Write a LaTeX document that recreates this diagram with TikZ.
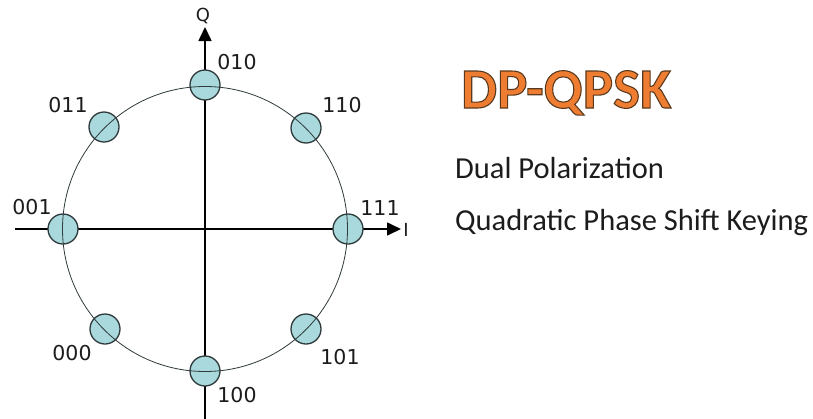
\documentclass[tikz,border=0pt]{standalone}
\usepackage{fontspec}
\setmainfont{Carlito}
\newfontfamily\lblfont{DejaVu Sans}
\usetikzlibrary{arrows.meta}
\definecolor{ptfill}{HTML}{A9D9DC}
\definecolor{ptline}{HTML}{2F3A3C}
\definecolor{orng}{HTML}{EE7D31}
\definecolor{brwn}{HTML}{5A3A1E}
\definecolor{txt}{HTML}{1C1C1C}
\tikzset{
  pt/.style={circle, draw=ptline, line width=1.3pt, fill=ptfill, minimum size=30pt, inner sep=0pt},
  bits/.style={font=\lblfont\fontsize{20.5}{22}\selectfont, text=txt, inner sep=0pt},
  axlab/.style={font=\lblfont\fontsize{18}{20}\selectfont, text=txt, inner sep=0pt},
  axis/.style={line width=1.6pt, -{Triangle[length=14pt,width=13pt]}},
  body/.style={font=\fontsize{30.5}{34}\selectfont, text=txt, inner sep=0pt, anchor=base west}
}
\newcommand{\outlinedtitle}[1]{\textcolor{orng}{\special{pdf:code q 2 Tr 1.1 w 0.353 0.227 0.118 RG}#1\special{pdf:code 0 Tr Q}}}
\begin{document}
\begin{tikzpicture}[x=1pt,y=-1pt]
\useasboundingbox (0,0) rectangle (813,418);
\coordinate (c) at (205,229);
\coordinate (xl) at (15,229);
\coordinate (xr) at (401,229);
\coordinate (yb) at (205,420);
\coordinate (yt) at (205,27);
\draw[axis] (xl) -- (xr);
\draw[axis] (yb) -- (yt);
\node[axlab] (qlab) at (203,16) {Q};
\node[axlab] (ilab) at (406,230) {I};
\node[pt] (p010) at (205,85) {};
\node[pt] (p110) at (306,128) {};
\node[pt] (p111) at (348,229) {};
\node[pt] (p101) at (306,329) {};
\node[pt] (p100) at (205,371) {};
\node[pt] (p000) at (105,329) {};
\node[pt] (p001) at (63,229) {};
\node[pt] (p011) at (104,127) {};
\draw[line width=0.8pt, draw=ptline] (c) circle (142.5);
\node[bits] (l010) at (237,62) {010};
\node[bits] (l011) at (68,105) {011};
\node[bits] (l110) at (342,105) {110};
\node[bits] (l001) at (32,207) {001};
\node[bits] (l111) at (380,208) {111};
\node[bits] (l000) at (72,353) {000};
\node[bits] (l101) at (340,357) {101};
\node[bits] (l100) at (237,395) {100};
\node[inner sep=0pt, anchor=base west, font=\bfseries\fontsize{57}{62}\selectfont] (title) at (461,108) {\outlinedtitle{DP-QPSK}};
\node[body] (t1) at (455,178) {Dual Polarization};
\node[body] (t2) at (455,230) {Quadratic Phase Shift Keying};
\end{tikzpicture}
\end{document}
